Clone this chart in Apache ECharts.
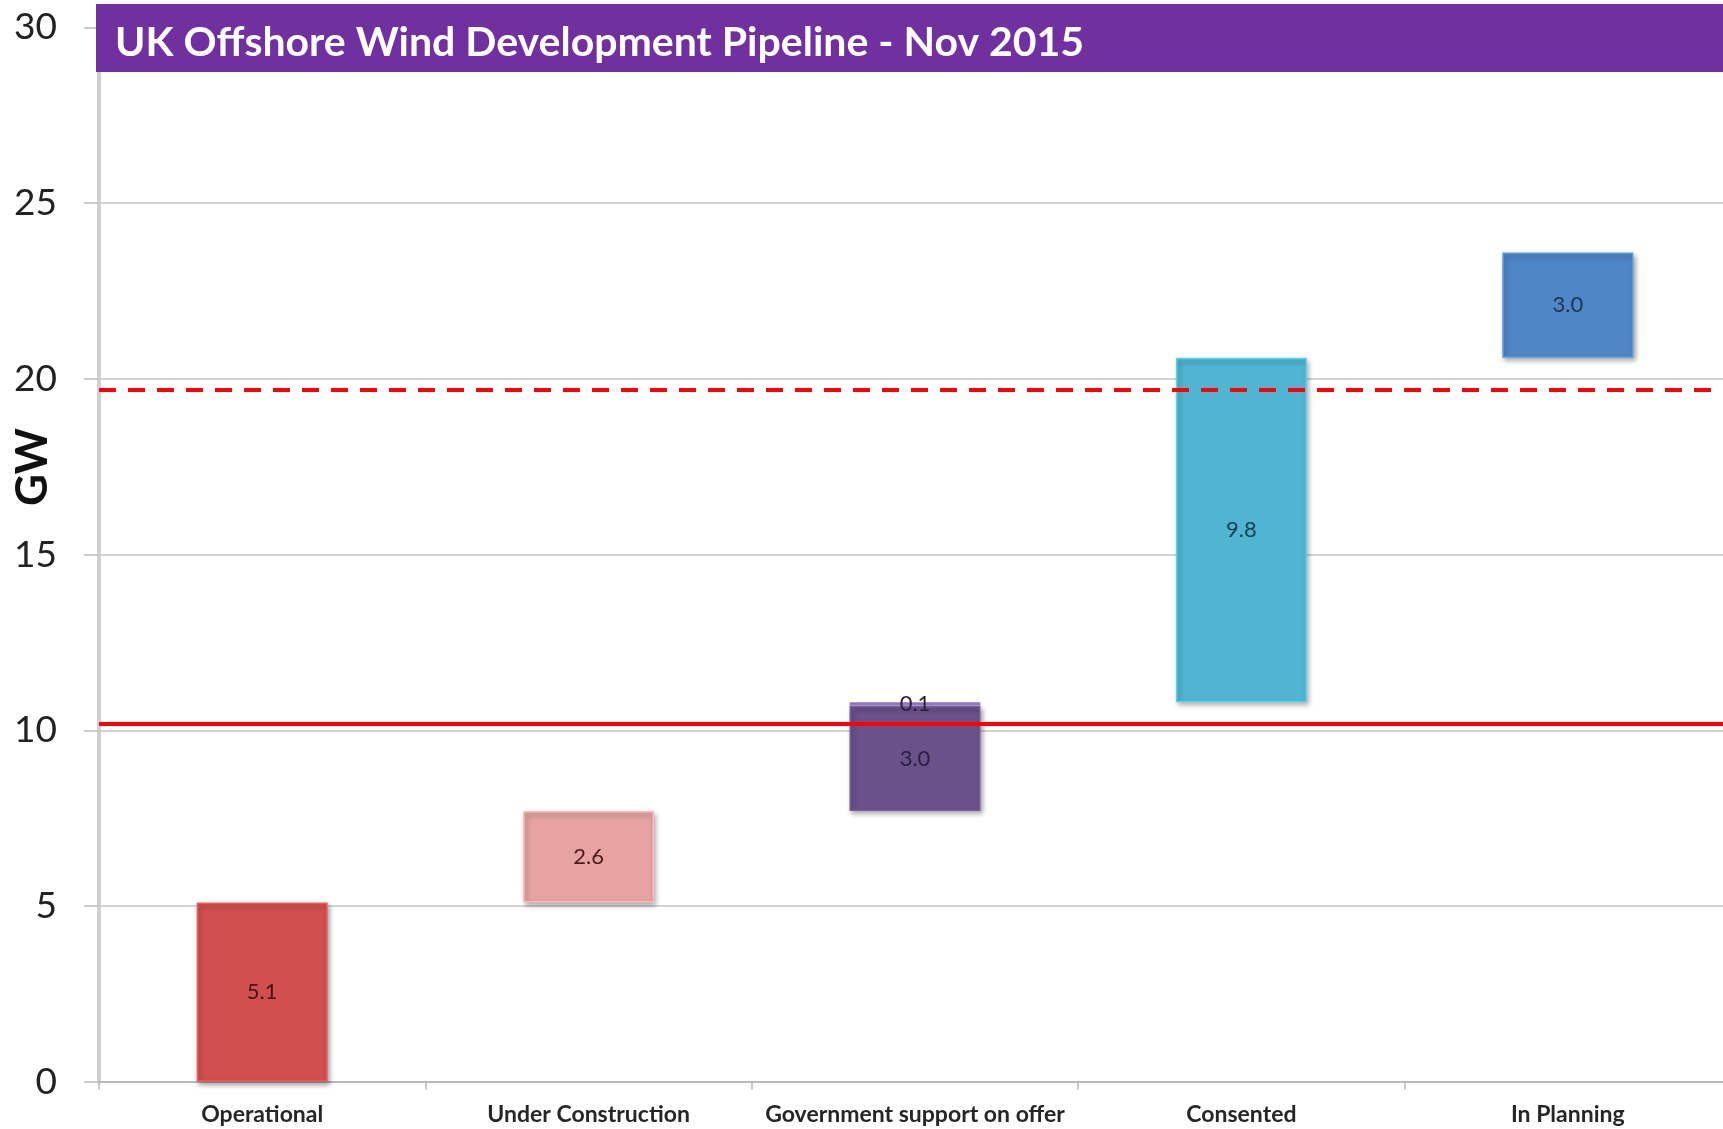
<!DOCTYPE html>
<html>
<head>
<meta charset="utf-8">
<script src="https://cdn.jsdelivr.net/npm/echarts@6/dist/echarts.min.js"></script>
<style>
html,body{margin:0;padding:0;background:#fff;overflow:hidden;}
#chart{width:1760px;height:1129px;}
</style>
</head>
<body>
<div id="chart"></div>
<script>
const titleText = 'UK Offshore Wind Development Pipeline - Nov 2015';
const categories = ['Operational', 'Under Construction', 'Government support on offer', 'Consented', 'In Planning'];
const values = [5.1, 2.6, 3.0, 9.8, 3.0];
const extraValues = [null, null, 0.1, null, null];
const barColors = ['#d0504f', '#e6a3a2', '#69518a', '#4fb5d1', '#4f86c6'];
const labelColors = ['#4a1212', '#4a1a1a', '#2c1c44', '#173f52', '#1b3557'];
const extraColor = '#8a74ad';
const refSolid = 10.2;
const refDashed = 19.7;
const yTicks = [0, 5, 10, 15, 20, 25, 30];

// waterfall offsets: each step starts where the previous ended
const base = [];
let run = 0;
for (let i = 0; i < values.length; i++) {
  base.push(run);
  run += values[i] + (extraValues[i] || 0);
}

const chart = echarts.init(document.getElementById('chart'));
const fontFam = 'Lato, "Open Sans", sans-serif';

chart.setOption({
  animation: false,
  grid: { left: 99, top: 27.5, width: 1632, height: 1054.2, containLabel: false },
  xAxis: {
    type: 'category',
    data: categories,
    axisLine: { lineStyle: { color: '#b8b8b8', width: 2 } },
    axisTick: { show: true, length: 8, lineStyle: { color: '#b8b8b8', width: 1.5 } },
    axisLabel: { color: '#262626', fontWeight: 'bold', fontSize: 23, fontFamily: fontFam, margin: 21, interval: 0 }
  },
  yAxis: {
    type: 'value',
    min: 0, max: 30, interval: 5,
    axisLine: { show: true, lineStyle: { color: '#d0d0d0', width: 4 } },
    axisTick: { show: true, length: 15, lineStyle: { color: '#bdbdbd', width: 1.5 } },
    axisLabel: { color: '#222', fontSize: 37, fontFamily: fontFam, margin: 42,
      formatter: v => yTicks.indexOf(v) >= 0 ? String(v) : '' },
    splitLine: { lineStyle: { color: '#c4c4c4', width: 1.5 } }
  },
  series: [
    {
      type: 'bar', stack: 'w', data: base, barWidth: 131,
      itemStyle: { color: 'transparent' }, silent: true,
      markLine: {
        silent: true, symbol: 'none', label: { show: false },
        data: [
          { yAxis: refSolid, lineStyle: { color: '#ff0000', width: 4, type: 'solid' } },
          { yAxis: refDashed, lineStyle: { color: '#ff0000', width: 4, type: [17, 12] } }
        ]
      }
    },
    {
      type: 'bar', stack: 'w', barWidth: 131,
      data: values.map((v, i) => ({
        value: v,
        itemStyle: {
          color: barColors[i],
          borderColor: echarts.color.lift(barColors[i], -0.15),
          borderWidth: 1.5,
          shadowColor: 'rgba(0,0,0,0.35)', shadowBlur: 5, shadowOffsetX: 2, shadowOffsetY: 3
        },
        label: { color: labelColors[i] }
      })),
      label: { show: true, position: 'inside', fontSize: 22, fontFamily: fontFam,
        formatter: p => p.value.toFixed(1) }
    },
    {
      type: 'bar', stack: 'w', barWidth: 131,
      data: extraValues.map(v => v === null ? null : ({
        value: v,
        itemStyle: { color: extraColor, borderColor: echarts.color.lift(extraColor, -0.15), borderWidth: 1 },
        label: { color: '#2c1c44' }
      })),
      label: { show: true, position: 'inside', fontSize: 22, fontFamily: fontFam,
        formatter: p => p.value == null ? '' : p.value.toFixed(1) }
    }
  ],
  graphic: [
    { type: 'rect', z: 100, shape: { x: 96, y: 4, width: 1660, height: 68 },
      style: { fill: '#7030a0' } },
    { type: 'text', z: 101, left: 115, top: 22,
      style: { text: titleText, fill: '#ffffff', font: 'bold 41px Lato, "Open Sans", sans-serif' } },
    { type: 'text', z: 101, x: 33, y: 467, rotation: Math.PI / 2,
      style: { text: 'GW', fill: '#111', font: 'bold 44px Lato, "Open Sans", sans-serif',
        align: 'center', verticalAlign: 'middle' } }
  ]
});
</script>
</body>
</html>
